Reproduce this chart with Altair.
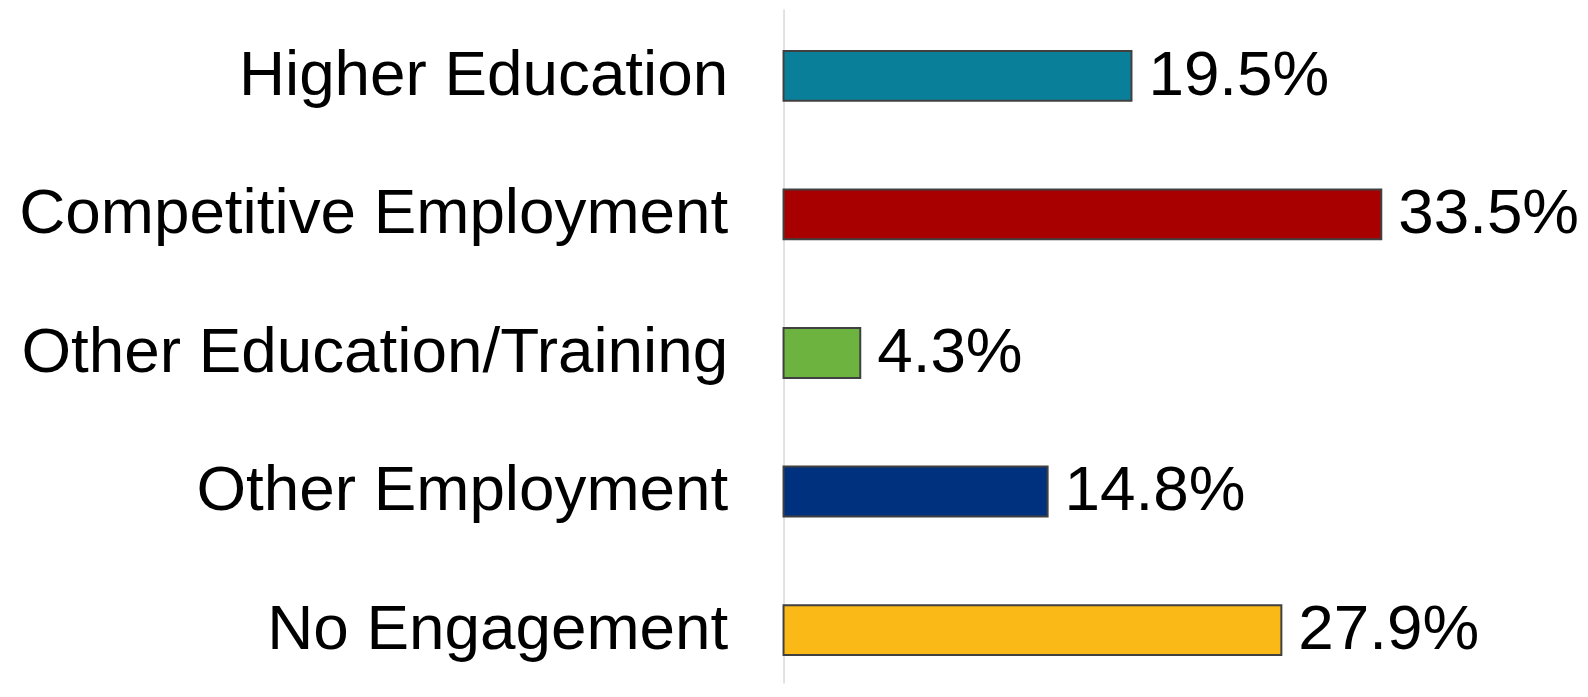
import altair as alt
import pandas as pd

categories = ["Higher Education", "Competitive Employment", "Other Education/Training",
              "Other Employment", "No Engagement"]
values = [19.5, 33.5, 4.3, 14.8, 27.9]
colors = ["#0A7F99", "#A80000", "#6DB33F", "#00317F", "#FBB917"]

df = pd.DataFrame({
    "category": categories,
    "value": values,
    "label": [f"{v:.1f}%" for v in values],
})

FONT = "Liberation Sans"

y_enc = alt.Y("category:N", sort=categories,
              scale=alt.Scale(paddingInner=0.64, paddingOuter=0.2516, align=0.6),
              axis=alt.Axis(title=None, ticks=False, labelPadding=56, labelLimit=0,
                            labelFontSize=64, labelFont=FONT, labelColor="#000000",
                            domain=True, domainColor="#D9D9D9", domainWidth=1.5,
                            grid=False))
x_enc = alt.X("value:Q", scale=alt.Scale(domain=[0, 40]), axis=None)

bars = alt.Chart(df).mark_bar(stroke="#404040", strokeWidth=2).encode(
    x=x_enc, y=y_enc,
    color=alt.Color("category:N", scale=alt.Scale(domain=categories, range=colors), legend=None),
)

text = alt.Chart(df).mark_text(align="left", baseline="middle", dx=17, fontSize=64,
                               font=FONT, color="#000000").encode(
    x=x_enc, y=y_enc, text="label:N",
)

chart = (bars + text).properties(
    width=716, height=676,
    autosize=alt.AutoSizeParams(type="none"),
    padding={"left": 778, "top": 0, "right": 83, "bottom": 0},
).configure_view(stroke=None)

chart.save("out.html", embed_options={"renderer": "svg", "actions": False})
